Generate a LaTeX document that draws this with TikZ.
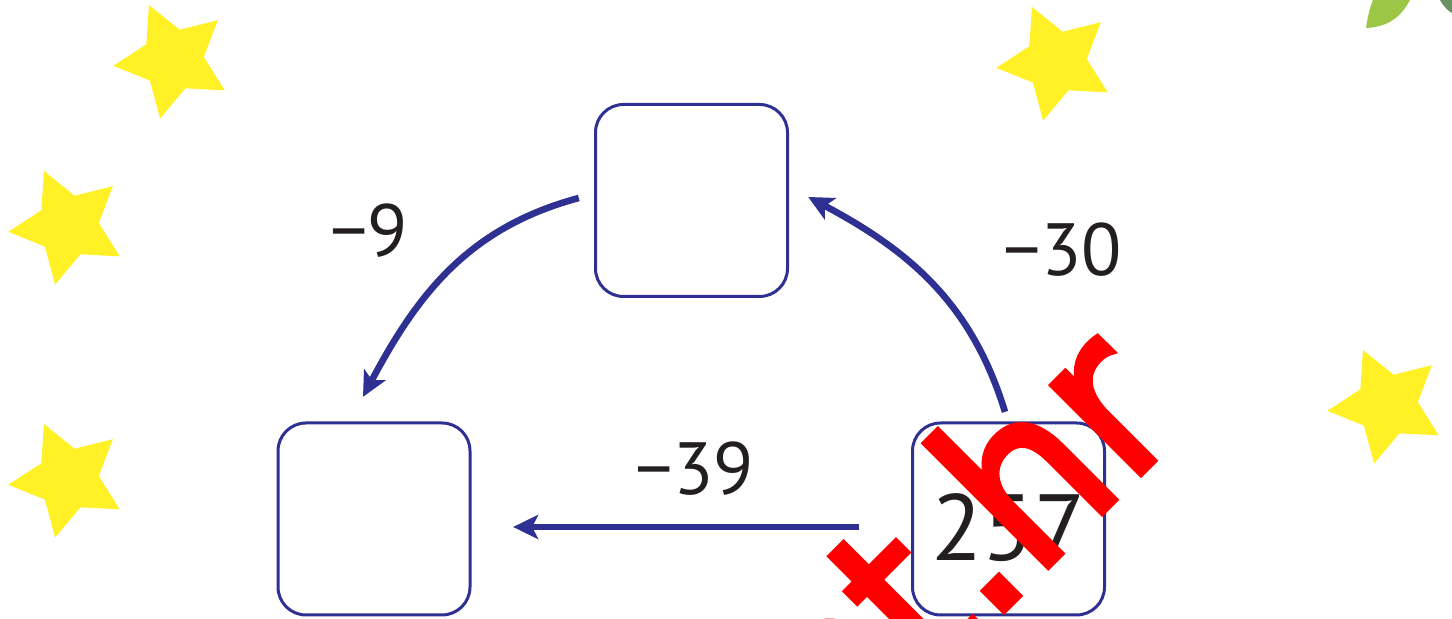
\documentclass[tikz,border=0pt]{standalone}
\usepackage{fontspec}
\setmainfont{PT Sans}
\newfontfamily\markfont[FakeStretch=0.9, FakeBold=2.5]{DejaVu Sans}
\usetikzlibrary{arrows.meta}
\usetikzlibrary{shapes.geometric}
\definecolor{boxblue}{RGB}{46,49,146}
\definecolor{textgray}{RGB}{35,31,32}
\definecolor{staryellow}{RGB}{255,241,38}
\definecolor{leafgreen}{RGB}{155,198,70}
\definecolor{darkleaf}{RGB}{104,146,98}
\tikzstyle{NumBox}=[rectangle, rounded corners=14pt, draw=boxblue, line width=1.5pt, minimum size=96pt, inner sep=0pt]
\tikzstyle{StarNode}=[star, star points=5, star point ratio=1.94, fill=staryellow, minimum size=60pt, inner sep=0pt, rotate=23.6]
\tikzstyle{NumLabel}=[text=textgray, font=\fontsize{37}{40}\selectfont, inner sep=0pt]
\tikzstyle{BigLabel}=[NumLabel, font=\fontsize{47}{50}\selectfont]
\tikzstyle{MinusEdge}=[-{Stealth[length=12.5pt, width=12pt, inset=3pt]}, draw=boxblue, line width=3.3pt]

\begin{document}
\begin{tikzpicture}[x=0.5pt, y=0.5pt]
\clip (0,0) rectangle (1452,619);
\fill[white] (0,0) rectangle (1452,619);

% stars
\node[StarNode](star1) at (173,559) {};
\node[StarNode](star2) at (68,393) {};
\node[StarNode](star3) at (68,140) {};
\node[StarNode](star4) at (1056,557) {};
\node[StarNode](star5) at (1387,214) {};

% leaves in the corner
\fill[leafgreen] (1366,591) .. controls (1368,604) and (1370,612) .. (1373,619) -- (1410,619) .. controls (1400,600) and (1386,592) .. (1366,591) -- cycle;
\fill[darkleaf] (1440,619) .. controls (1444,612) and (1448,608) .. (1452,606) -- (1452,619) -- cycle;

% boxes
\node[NumBox](top) at (691.5,418.5) {};
\node[NumBox](bl) at (374,100) {};
\node[NumBox](br) at (1008.5,100) {};
\node[BigLabel](val) at ([yshift=-4.5pt]br.center) {257};

% arrows
\draw[MinusEdge] ([xshift=-7.6pt, yshift=1.25pt]top.west) to[out=195, in=62] ([xshift=-5.5pt, yshift=12.3pt]bl.north);
\draw[MinusEdge] ([xshift=-1.75pt, yshift=4.8pt]br.north) to[out=107, in=-28] ([xshift=9.6pt, yshift=1.75pt]top.east);
\draw[MinusEdge] ([xshift=-26.1pt, yshift=-4pt]br.west) -- ([xshift=20.8pt, yshift=-4pt]bl.east);

% labels
\node[NumLabel](minusnine) at (369,388) {−9};
\node[NumLabel](minusthirty) at (1063,369) {−30};
\node[NumLabel](minusthirtynine) at (695,150) {−39};

% watermark
\node[text=red, font=\markfont\fontsize{115}{120}\selectfont, rotate=45, anchor=base, inner sep=0pt](mark) at (968,-28) {net.hr};
\end{tikzpicture}
\end{document}
